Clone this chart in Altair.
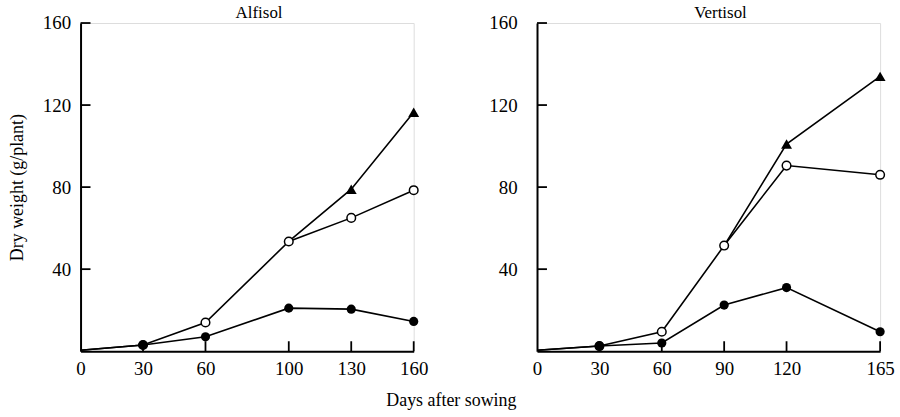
import altair as alt
import pandas as pd

# ---- data ----
alf_days = [0, 30, 60, 100, 130, 160]
alf_filled = [0.5, 3, 7, 21, 20.5, 14.5]
alf_open = [0.5, 3, 14, 53.5, 65, 78.5]
alf_tri_days = [100, 130, 160]
alf_tri = [53.5, 79, 116.5]

ver_days = [0, 30, 60, 90, 120, 165]
ver_filled = [0.5, 2.5, 4, 22.5, 31, 9.5]
ver_open = [0.5, 2.5, 9.5, 51.5, 90.5, 86]
ver_tri_days = [90, 120, 165]
ver_tri = [51.5, 101, 134]

y_ticks = [40, 80, 120, 160]

FONT = "Liberation Serif"
H = 330
TICK_PX = 10


def panel(title, days, filled, opened, tri_days, tri_vals, xmax, width, ytitle, label_pad):
    rows = []
    for d, v in zip(days, filled):
        rows.append({"series": "filled", "day": d, "value": v})
    for d, v in zip(days, opened):
        rows.append({"series": "open", "day": d, "value": v})
    for d, v in zip(tri_days, tri_vals):
        rows.append({"series": "tri", "day": d, "value": v})
    df = pd.DataFrame(rows)

    xt = pd.DataFrame({"day": days[1:]})
    yt = pd.DataFrame({"value": y_ticks})

    x = alt.X("day:Q",
              scale=alt.Scale(domain=[0, xmax], nice=False, zero=True),
              axis=alt.Axis(values=days, title=None, ticks=False, grid=False,
                            domainColor="black", domainWidth=2,
                            labelFont=FONT, labelFontSize=19, labelColor="black",
                            labelPadding=8, labelFlush=False))
    y_axis_kwargs = dict(values=y_ticks, ticks=False, grid=False,
                         domainColor="black", domainWidth=2,
                         labelFont=FONT, labelFontSize=19, labelColor="black",
                         labelPadding=label_pad, labelFlush=False)
    if ytitle:
        y_axis = alt.Axis(title=ytitle, titleFont=FONT, titleFontSize=18,
                          titleFontWeight="normal", titleColor="black",
                          titlePadding=16, **y_axis_kwargs)
    else:
        y_axis = alt.Axis(title=None, **y_axis_kwargs)
    y = alt.Y("value:Q", scale=alt.Scale(domain=[0, 160], nice=False), axis=y_axis)

    base = alt.Chart(df)
    lines = base.mark_line(color="black", strokeWidth=1.6).encode(
        x=x, y=y, detail="series:N")
    # inward tick marks: short ticks centred half a tick length inside the axes
    xticks = alt.Chart(xt).mark_tick(
        color="black", thickness=1.8, size=TICK_PX, orient="vertical", opacity=1
    ).encode(x=x, y=alt.datum(160 * TICK_PX / 2 / H, type="quantitative"))
    yticks = alt.Chart(yt).mark_tick(
        color="black", thickness=1.8, size=TICK_PX, orient="horizontal", opacity=1
    ).encode(y=y, x=alt.datum(xmax * TICK_PX / 2 / width, type="quantitative"))
    open_pts = base.transform_filter(
        (alt.datum.series == "open") & (alt.datum.day >= 30)
    ).mark_point(shape="circle", filled=True, fill="white", stroke="black",
                 strokeWidth=1.5, size=75, opacity=1).encode(x=x, y=y)
    filled_pts = base.transform_filter(
        (alt.datum.series == "filled") & (alt.datum.day >= 30)
    ).mark_point(shape="circle", filled=True, color="black", size=85,
                 opacity=1).encode(x=x, y=y)
    tri_pts = base.transform_filter(
        (alt.datum.series == "tri") & (alt.datum.day > tri_days[0])
    ).mark_point(shape="triangle-up", filled=True, color="black", size=120,
                 opacity=1).encode(x=x, y=y)

    ttl = alt.Chart(pd.DataFrame({"t": [title]})).mark_text(
        font=FONT, fontSize=17, color="black", baseline="bottom", align="center"
    ).encode(x=alt.value(width / 2 + 12), y=alt.value(-1), text="t:N")

    return alt.layer(lines, xticks, yticks, open_pts, filled_pts, tri_pts, ttl).properties(
        width=width, height=H)


left = panel("Alfisol", alf_days, alf_filled, alf_open, alf_tri_days, alf_tri,
             160, 335, "Dry weight (g/plant)", 10)
right = panel("Vertisol", ver_days, ver_filled, ver_open, ver_tri_days, ver_tri,
              165, 345, None, 20)

chart = alt.hconcat(left, right, spacing=124, bounds="flush").properties(
    title=alt.TitleParams("Days after sowing", orient="bottom", anchor="middle",
                          font=FONT, fontSize=18, fontWeight="normal",
                          color="black", offset=14),
    padding={"left": 8, "top": 2, "right": 5, "bottom": 2},
).configure_view(stroke=None).configure(background="white")

chart.save("out.html", embed_options={"renderer": "svg", "actions": False})
